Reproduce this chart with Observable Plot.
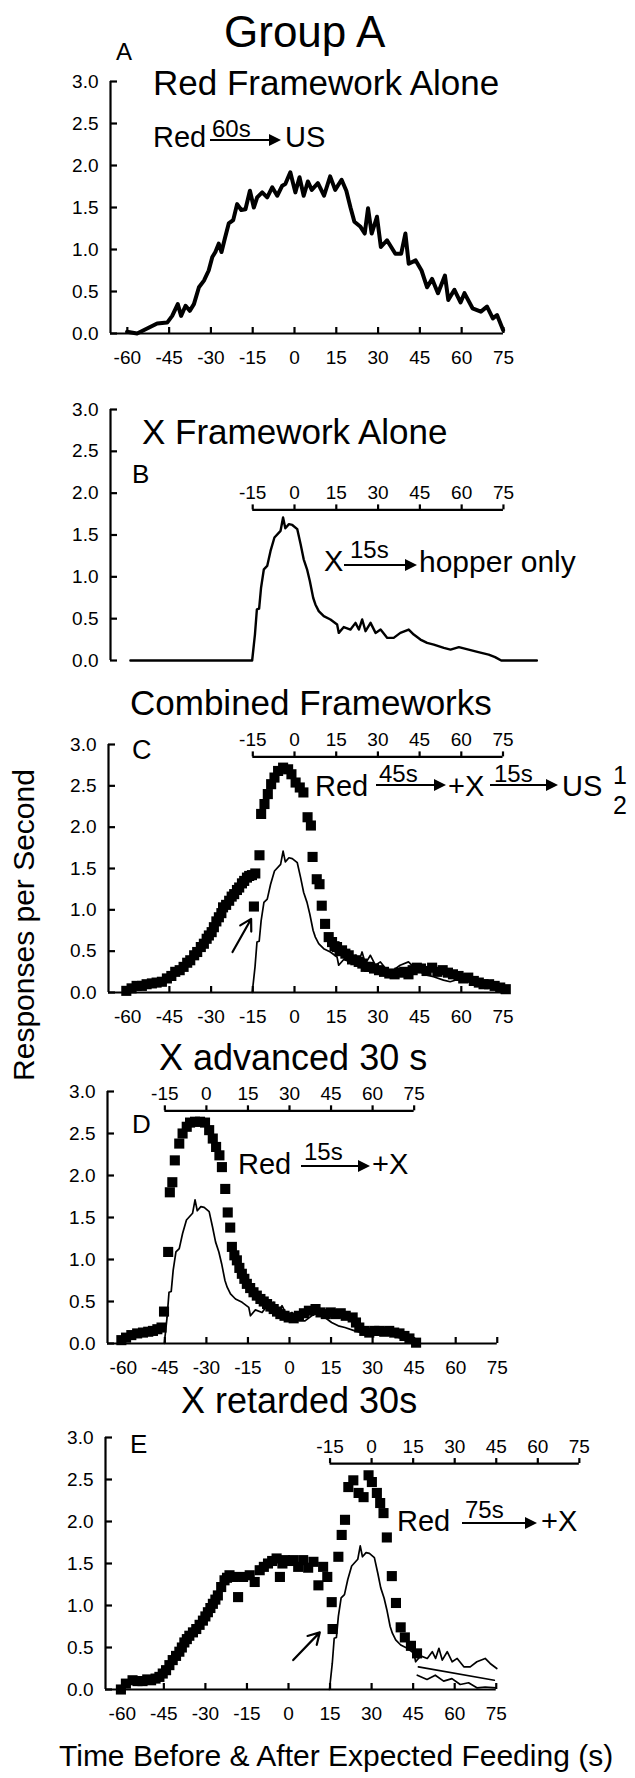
<!DOCTYPE html>
<html><head><meta charset="utf-8">
<script src="https://cdn.jsdelivr.net/npm/d3@7"></script>
<script src="https://cdn.jsdelivr.net/npm/@observablehq/plot@0.6"></script>
<style>
html,body{margin:0;padding:0;background:#fff;}
#root{position:relative;width:635px;height:1778px;overflow:hidden;font-family:"Liberation Sans",Arial,Helvetica,sans-serif;color:#000;}
.panel{position:absolute;left:0;}
.t{position:absolute;white-space:nowrap;line-height:1;}
.arw{position:absolute;height:2px;background:#000;}
.arw::after{content:"";position:absolute;right:-12px;top:-5px;border-left:12px solid #000;border-top:6px solid transparent;border-bottom:6px solid transparent;}
.ylab{position:absolute;white-space:nowrap;line-height:1;transform:translate(-50%,-50%) rotate(-90deg);}
</style></head><body><div id="root"></div>
<script>
// ---------- data ----------
const xTicks = [-60, -45, -30, -15, 0, 15, 30, 45, 60, 75];
const topTicks = [-15, 0, 15, 30, 45, 60, 75];
const yTicks = [0, 0.5, 1, 1.5, 2, 2.5, 3];

// Panel A: Red framework alone (time s, responses/s)
const redAlone = [[-60.1,0.02],[-56.5,0.0],[-52.9,0.06],[-49.3,0.12],[-45.7,0.13],[-43.9,0.21],[-41.9,0.35],[-40.7,0.21],[-39.1,0.33],[-37.6,0.27],[-36.1,0.35],[-34.3,0.55],[-32.5,0.63],[-30.8,0.75],[-29.5,0.91],[-28.4,0.97],[-27.2,1.07],[-26.2,0.97],[-25.0,1.13],[-23.6,1.31],[-22.0,1.35],[-20.6,1.54],[-19.1,1.47],[-17.6,1.48],[-16.0,1.70],[-14.6,1.50],[-13.4,1.62],[-11.6,1.68],[-9.8,1.62],[-8.0,1.74],[-6.2,1.64],[-4.4,1.76],[-3.3,1.78],[-1.5,1.92],[0.3,1.68],[1.8,1.86],[3.3,1.64],[4.8,1.81],[6.2,1.71],[8.4,1.79],[10.6,1.64],[12.8,1.87],[14.6,1.71],[16.9,1.83],[18.6,1.70],[20.1,1.50],[21.5,1.33],[23.7,1.27],[25.2,1.19],[26.4,1.49],[27.7,1.19],[29.6,1.39],[31.0,1.03],[33.2,1.11],[36.2,0.95],[38.3,0.95],[39.8,1.19],[41.0,0.83],[43.5,0.87],[45.6,0.75],[47.6,0.55],[49.4,0.65],[51.5,0.48],[54.0,0.69],[55.2,0.40],[57.4,0.52],[59.6,0.37],[61.0,0.48],[63.9,0.30],[66.9,0.26],[69.1,0.32],[71.2,0.18],[72.7,0.22],[74.9,0.04]];

// Panel B: X framework alone (time relative to expected feeding in the X framework)
const xAlone = [[-58.9,0],[-15.2,0],[-14.2,0.31],[-13.5,0.61],[-12.7,0.62],[-12.0,0.87],[-11.0,1.09],[-9.8,1.13],[-8.6,1.31],[-7.2,1.47],[-5.0,1.55],[-4.1,1.71],[-3.3,1.58],[-2.0,1.63],[-0.8,1.62],[1.0,1.57],[2.2,1.39],[3.3,1.21],[4.5,1.09],[5.5,0.95],[6.7,0.75],[7.5,0.67],[8.7,0.59],[10.5,0.53],[12.9,0.49],[15.3,0.43],[15.9,0.33],[17.7,0.40],[20.1,0.37],[21.9,0.45],[23.1,0.37],[24.3,0.49],[25.5,0.35],[27.3,0.45],[29.1,0.33],[30.9,0.37],[33.3,0.27],[35.6,0.27],[38.0,0.33],[41.0,0.37],[42.8,0.31],[45.2,0.25],[47.6,0.21],[50.0,0.19],[53.6,0.15],[56.0,0.13],[59.0,0.16],[62.5,0.13],[66.0,0.10],[69.7,0.07],[72.0,0.04],[74.2,0],[87,0]];

// Panel C: combined frameworks (squares)
const combined = [[-60.5,0.02],[-58.6,0.05],[-56.8,0.08],[-54.9,0.08],[-53.2,0.10],[-51.3,0.11],[-49.6,0.12],[-47.7,0.13],[-45.9,0.17],[-44.3,0.20],[-42.9,0.25],[-41.3,0.27],[-39.9,0.31],[-38.6,0.36],[-37.5,0.39],[-36.1,0.45],[-35.0,0.49],[-33.7,0.55],[-32.6,0.59],[-31.6,0.65],[-30.8,0.69],[-29.8,0.73],[-29.0,0.79],[-28.1,0.86],[-27.2,0.91],[-26.3,0.96],[-25.7,1.03],[-24.6,1.06],[-23.5,1.11],[-22.6,1.16],[-21.7,1.19],[-20.7,1.24],[-19.9,1.27],[-18.9,1.32],[-18.1,1.35],[-17.1,1.39],[-16.3,1.41],[-15.3,1.42],[-14.6,1.04],[-14.1,1.44],[-12.6,1.66],[-12.0,2.16],[-10.8,2.28],[-9.6,2.40],[-8.4,2.52],[-7.2,2.60],[-5.9,2.68],[-4.1,2.72],[-2.3,2.70],[-1.1,2.64],[0.4,2.54],[1.9,2.48],[3.2,2.42],[4.7,2.12],[5.9,2.02],[6.5,1.64],[8.0,1.37],[9.0,1.31],[9.8,1.05],[11.0,0.83],[12.3,0.67],[13.5,0.61],[14.4,0.56],[15.3,0.55],[16.2,0.50],[17.1,0.51],[18.3,0.47],[19.5,0.45],[20.7,0.40],[21.9,0.39],[23.1,0.37],[24.4,0.35],[25.6,0.31],[26.8,0.31],[28.6,0.29],[30.4,0.27],[32.2,0.25],[34.1,0.23],[36.0,0.22],[37.7,0.24],[39.5,0.25],[41.0,0.22],[42.5,0.27],[44.0,0.30],[45.5,0.29],[47.5,0.26],[49.5,0.30],[51.4,0.25],[53.3,0.27],[55.2,0.24],[57.0,0.22],[59.0,0.20],[60.7,0.17],[62.5,0.18],[64.5,0.14],[66.3,0.12],[68.0,0.10],[70.0,0.10],[72.0,0.08],[74.0,0.06],[76.0,0.04]];

// Panel D: X advanced 30 s (squares)
const advanced = [[-60.7,0.04],[-59.0,0.07],[-57.1,0.10],[-55.0,0.12],[-52.9,0.13],[-51.0,0.14],[-49.3,0.15],[-47.7,0.17],[-46.2,0.19],[-45.3,0.38],[-43.8,1.09],[-43.2,1.80],[-42.3,1.92],[-41.4,2.18],[-39.8,2.38],[-38.6,2.50],[-37.1,2.58],[-35.9,2.63],[-34.1,2.64],[-32.3,2.64],[-30.5,2.63],[-29.0,2.54],[-27.7,2.44],[-26.5,2.34],[-25.3,2.24],[-24.4,2.10],[-23.2,1.84],[-22.3,1.56],[-21.4,1.38],[-20.8,1.15],[-19.9,1.05],[-19.0,0.99],[-18.1,0.90],[-17.2,0.83],[-16.3,0.77],[-15.4,0.71],[-14.2,0.66],[-13.0,0.61],[-11.8,0.57],[-10.5,0.53],[-9.3,0.50],[-8.1,0.47],[-6.9,0.44],[-5.7,0.41],[-4.5,0.38],[-3.3,0.35],[-1.8,0.33],[-0.3,0.31],[1.5,0.30],[3.4,0.33],[5.2,0.36],[7.0,0.39],[9.4,0.41],[11.2,0.37],[13.1,0.35],[14.9,0.37],[16.7,0.35],[18.5,0.36],[20.3,0.33],[22.8,0.31],[24.0,0.25],[25.2,0.19],[27.0,0.15],[28.8,0.13],[30.6,0.15],[32.4,0.15],[34.2,0.14],[36.0,0.15],[37.8,0.13],[39.7,0.12],[41.5,0.09],[43.3,0.06],[45.7,0.01]];

// Panel E: X retarded 30 s (squares)
const retarded = [[-60.5,0.00],[-58.7,0.07],[-56.3,0.11],[-54.5,0.10],[-52.7,0.10],[-51.0,0.12],[-49.6,0.11],[-48.0,0.13],[-46.6,0.15],[-45.4,0.19],[-44.2,0.23],[-43.0,0.29],[-41.8,0.35],[-40.6,0.40],[-39.4,0.45],[-38.5,0.50],[-37.6,0.56],[-36.7,0.60],[-35.8,0.64],[-34.5,0.68],[-33.3,0.72],[-32.1,0.77],[-30.9,0.82],[-30.0,0.87],[-29.1,0.92],[-28.2,0.97],[-27.3,1.02],[-26.4,1.07],[-25.5,1.12],[-24.3,1.22],[-23.1,1.30],[-22.2,1.33],[-21.3,1.36],[-20.0,1.34],[-18.2,1.10],[-16.4,1.34],[-14.0,1.36],[-12.2,1.28],[-10.4,1.42],[-8.9,1.46],[-7.4,1.50],[-5.9,1.53],[-4.3,1.56],[-3.1,1.34],[-2.2,1.50],[-1.3,1.54],[0.2,1.53],[1.7,1.54],[3.5,1.46],[5.3,1.54],[7.1,1.45],[9.0,1.52],[10.8,1.24],[12.5,1.46],[14.0,1.34],[15.6,1.04],[15.9,0.72],[18.0,1.58],[19.2,1.84],[20.4,2.02],[21.6,2.41],[23.4,2.49],[25.3,2.34],[27.1,2.29],[28.9,2.55],[30.1,2.47],[31.9,2.34],[33.1,2.22],[34.3,2.10],[35.5,1.81],[37.3,1.35],[38.8,1.03],[40.5,0.74],[42.0,0.62],[44.2,0.52],[46.4,0.43]];
const retardedTailA = [[46.9,0.27],[74.3,0.11]];
const retardedTailB = [[46.5,0.17],[50,0.12],[53,0.17],[56,0.10],[59,0.13],[62,0.06],[65,0.08],[68,0.02],[71,0.03],[75,0.02]];

// pointer arrows (data coordinates)
const pointerC = [{t1:-22.3, v1:0.49, t2:-15.6, v2:0.89}];
const pointerE = [{t1:1.7, v1:0.35, t2:11.3, v2:0.68}];

// ---------- layout ----------
const W = 635;
const FONT = '"Liberation Sans", Arial, Helvetica, sans-serif';
const root = document.getElementById("root");
const P = (arr, shift = 0) => arr.map(([t, v]) => ({t: t + shift, v}));

function geom(c) {
  const lo = -(c.x0 - c.ml) / c.k;
  const x75 = c.x0 + 75 * c.k;
  const ppu = (c.y0 - c.y3) / 3;
  return {...c, lo, x75, ppu};
}

function axes(g, bottom = true) {
  const m = [
    Plot.ruleX([g.lo], {y1: 0, y2: 3, strokeWidth: 2.2}),
    Plot.ruleY(yTicks, {y: d => d, x1: g.lo, x2: g.lo + 7 / g.k, strokeWidth: 2.2}),
    Plot.axisY({ticks: yTicks, tickSize: 0, tickPadding: 12, tickFormat: d => d.toFixed(1), fontSize: 19, label: null})
  ];
  if (bottom) m.push(
    Plot.ruleY([0], {x1: g.lo, x2: 75, strokeWidth: 2.2}),
    Plot.ruleX(xTicks, {x: d => d, y1: 0, y2: 6 / g.ppu, strokeWidth: 2.2}),
    Plot.axisX({ticks: xTicks, tickSize: 0, tickPadding: 17, tickFormat: d => String(d), fontSize: 19, label: null})
  );
  return m;
}

function topAxis(g, level, shift) {
  return [
    Plot.ruleY([level], {x1: -15 + shift, x2: 75 + shift, strokeWidth: 2.2}),
    Plot.ruleX(topTicks, {x: d => d + shift, y1: level, y2: level + 5 / g.ppu, strokeWidth: 2.2}),
    Plot.text(topTicks, {x: d => d + shift, y: level, dy: -17, text: d => String(d), fontSize: 19})
  ];
}

function panel(c, marksFn, bottom = true) {
  const g = geom(c);
  const svg = Plot.plot({
    width: W, height: g.height,
    marginLeft: g.ml, marginRight: W - g.x75,
    marginTop: g.y3 - g.top, marginBottom: g.top + g.height - g.y0,
    x: {domain: [g.lo, 75], axis: null},
    y: {domain: [0, 3], axis: null},
    style: {fontFamily: FONT, fontSize: "19px", overflow: "visible", background: "transparent", color: "#000"},
    marks: [...axes(g, bottom), ...marksFn(g)]
  });
  const div = document.createElement("div");
  div.className = "panel";
  div.style.top = g.top + "px";
  div.appendChild(svg);
  root.appendChild(div);
}

const sq = {x: "t", y: "v", symbol: "square", r: 5.7, fill: "#000", stroke: "none"};

// A
panel({top: 0, height: 380, ml: 110, x0: 294, k: 2.786, y0: 333, y3: 81}, g => [
  Plot.line(P(redAlone), {x: "t", y: "v", strokeWidth: 4, strokeLinejoin: "round"})
]);
// B
panel({top: 380, height: 300, ml: 110, x0: 294, k: 2.786, y0: 660, y3: 409}, g => [
  ...topAxis(g, 1.80, 0),
  Plot.line(P(xAlone), {x: "t", y: "v", strokeWidth: 2.4, strokeLinejoin: "round"})
], false);
// C
panel({top: 680, height: 360, ml: 108, x0: 294, k: 2.78, y0: 992, y3: 744}, g => [
  ...topAxis(g, 2.85, 0),
  Plot.dot(P(combined), sq),
  Plot.line(P(xAlone.filter(d => d[0] >= -15.2 && d[0] <= 75)), {x: "t", y: "v", strokeWidth: 1.7}),
  Plot.arrow(pointerC, {x1: "t1", y1: "v1", x2: "t2", y2: "v2", strokeWidth: 2.2, headLength: 12})
]);
// D
panel({top: 1040, height: 345, ml: 107, x0: 289, k: 2.77, y0: 1343, y3: 1091}, g => [
  ...topAxis(g, 2.77, -30),
  Plot.dot(P(advanced), sq),
  Plot.line(P(xAlone.filter(d => d[0] >= -15.2 && d[0] <= 75), -30), {x: "t", y: "v", strokeWidth: 1.7})
]);
// E
panel({top: 1385, height: 355, ml: 105, x0: 288, k: 2.77, y0: 1689, y3: 1437}, g => [
  ...topAxis(g, 2.69, 30),
  Plot.dot(P(retarded), sq),
  Plot.line(P(xAlone.filter(d => d[0] >= -15.2 && d[0] <= 45.3), 30), {x: "t", y: "v", strokeWidth: 1.7}),
  Plot.line(P(retardedTailA), {x: "t", y: "v", strokeWidth: 1.7}),
  Plot.line(P(retardedTailB), {x: "t", y: "v", strokeWidth: 1.7}),
  Plot.arrow(pointerE, {x1: "t1", y1: "v1", x2: "t2", y2: "v2", strokeWidth: 2.2, headLength: 12})
]);

// ---------- text annotations ----------
const notes = [
  [224, 47, "Group A", 44],
  [116, 60, "A", 24],
  [153, 95, "Red Framework Alone", 35],
  [153, 148, "Red", 29], [212, 137, "60s", 24], [285, 148, "US", 29],
  [142, 444, "X Framework Alone", 35],
  [132, 483, "B", 26],
  [324, 572, "X", 29], [350, 558, "15s", 24], [419, 572, "hopper only", 30],
  [130, 715, "Combined Frameworks", 35],
  [132, 760, "C", 27],
  [315, 797, "Red", 29], [379, 782, "45s", 24], [448, 797, "+X", 29], [494, 782, "15s", 24], [562, 797, "US", 29],
  [613, 784, "1", 25], [613, 814, "2", 25],
  [159, 1070, "X advanced 30 s", 36],
  [132, 1133, "D", 26],
  [238, 1175, "Red", 29], [304, 1160, "15s", 24], [372, 1175, "+X", 29],
  [181, 1413, "X retarded 30s", 36],
  [130, 1453, "E", 26],
  [397, 1532, "Red", 29], [465, 1518, "75s", 24], [541, 1532, "+X", 29],
  [59, 1766, "Time Before & After Expected Feeding (s)", 30]
];
for (const [x, base, s, size] of notes) {
  const e = document.createElement("span");
  e.className = "t";
  e.textContent = s;
  e.style.left = x + "px";
  e.style.top = (base - 0.8465 * size) + "px";
  e.style.fontSize = size + "px";
  root.appendChild(e);
}
const glyphArrows = [[210, 281, 140], [344, 417, 565], [376, 446, 785], [490, 558, 785], [301, 370, 1166], [462, 537, 1523]];
for (const [x1, x2, y] of glyphArrows) {
  const e = document.createElement("div");
  e.className = "arw";
  e.style.left = x1 + "px";
  e.style.top = (y - 1) + "px";
  e.style.width = (x2 - x1 - 12) + "px";
  root.appendChild(e);
}
const yl = document.createElement("div");
yl.className = "ylab";
yl.textContent = "Responses per Second";
yl.style.left = "24px";
yl.style.top = "925px";
yl.style.fontSize = "30px";
root.appendChild(yl);
</script></body></html>
